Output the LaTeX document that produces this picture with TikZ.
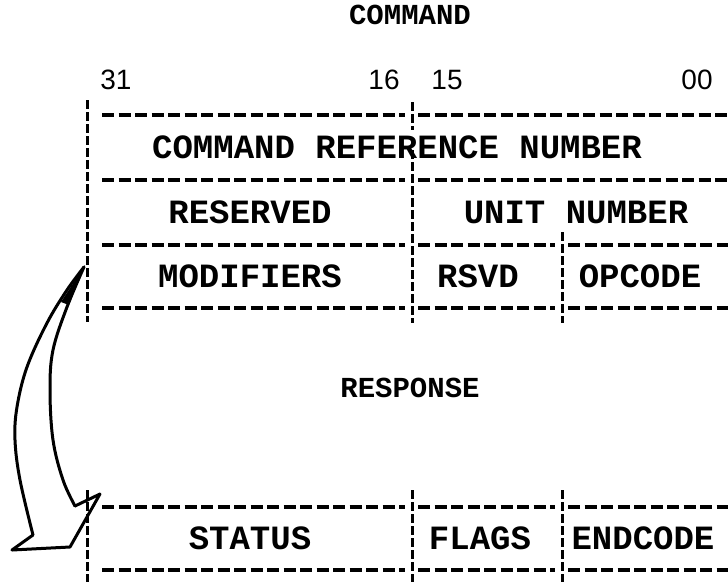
\documentclass[tikz,border=0pt]{standalone}
\usepackage{fontspec}
\setmainfont{Liberation Mono}
\newfontfamily\numfont{Liberation Sans}
\begin{document}
\begin{tikzpicture}[x=1pt,y=-1pt,
  hdash/.style={line width=3.5pt, dash pattern=on 12pt off 4.5pt},
  vbar/.style={line width=3pt, dash pattern=on 9pt off 3pt},
  cell/.style={font=\fontsize{34}{34}\selectfont\bfseries, inner sep=0pt, anchor=center},
  ttl/.style={font=\fontsize{29}{29}\selectfont\bfseries, inner sep=0pt},
  num/.style={font=\fontsize{28}{28}\selectfont\numfont, inner sep=0pt},
  arrowline/.style={line width=3pt, line join=round, line cap=round},
]
\useasboundingbox (0,0) rectangle (728,582);

% titles and bit numbers
\node[ttl] (tcmd) at (410,15) {COMMAND};
\node[num] (b31) at (116,80) {31};
\node[num] (b16) at (384,80) {16};
\node[num] (b15) at (447,80) {15};
\node[num] (b00) at (697,80) {00};

% command texts
\node[cell] (crn) at (397,147) {COMMAND REFERENCE NUMBER};
\node[cell] (res) at (250,212) {RESERVED};
\node[cell] (unit) at (576,212) {UNIT NUMBER};
\node[cell] (mod) at (250,276) {MODIFIERS};
\node[cell] (rsvd) at (478,276) {RSVD};
\node[cell] (opc) at (640,276) {OPCODE};

% response texts
\node[ttl] (tresp) at (410,388) {RESPONSE};
\node[cell] (stat) at (250,538) {STATUS};
\node[cell] (flags) at (480,538) {FLAGS};
\node[cell] (endc) at (643,538) {ENDCODE};

% horizontal dashed rules (command)
\foreach \y in {115,180} {
  \draw[hdash] (102,\y) -- (405,\y);
  \draw[hdash] (418,\y) -- (728,\y);
}
\foreach \y in {245,308,507,570} {
  \draw[hdash] (102,\y) -- (405,\y);
  \draw[hdash] (418,\y) -- (555,\y);
  \draw[hdash] (568,\y) -- (728,\y);
}

% vertical broken bars
\draw[vbar] (87,100) -- (87,322);
\draw[vbar] (412,102) -- (412,130);
\draw[vbar] (412,150) -- (412,323);
\draw[vbar] (562,232) -- (562,323);
\draw[vbar] (87,490) -- (87,582);
\draw[vbar] (412,490) -- (412,582);
\draw[vbar] (562,490) -- (562,582);

% hollow curved arrow
\coordinate (atop) at (84,267);
\coordinate (aout) at (33,535);
\coordinate (ain) at (75,506);
\coordinate (barbL) at (12,550);
\coordinate (tip) at (70,547);
\coordinate (barbR) at (100,494);
\draw[arrowline] plot[smooth, tension=0.6] coordinates {(atop) (67,290) (47,323) (27,367) (17,407) (15,440) (20,480) (aout)};
\draw[arrowline] plot[smooth, tension=0.6] coordinates {(atop) (67,307) (53,350) (50,390) (53,440) (63,480) (ain)};
\draw[arrowline] (aout) -- (barbL) -- (tip) -- (barbR) -- (ain);
\fill (85,265) -- (61,302) -- (69,305) -- cycle;
\end{tikzpicture}
\end{document}
